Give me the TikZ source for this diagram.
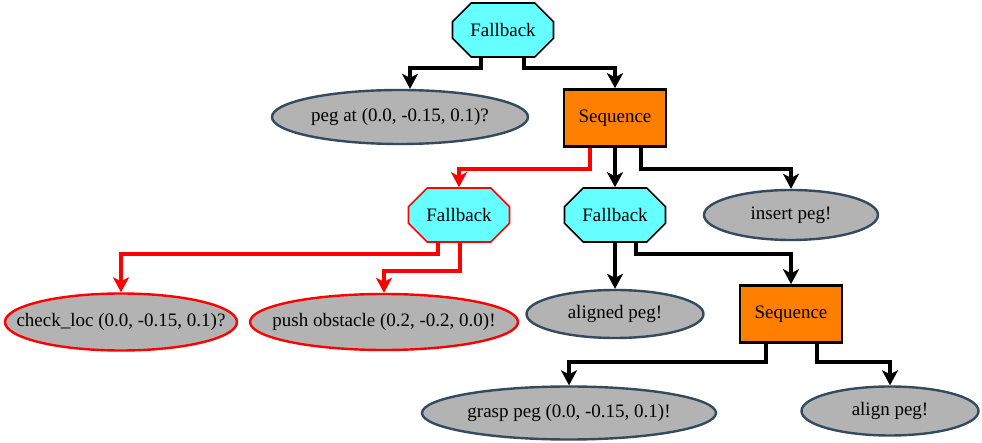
\documentclass[tikz,border=0pt]{standalone}
\usepackage{fontspec}
\setmainfont{Liberation Serif}
\usetikzlibrary{shapes.geometric,shapes.misc,arrows.meta}
\definecolor{fbcyan}{HTML}{66FFFF}
\definecolor{seqorange}{HTML}{FF8000}
\definecolor{leafgray}{HTML}{B3B3B3}
\definecolor{leafedge}{HTML}{344A5E}
% zero-width label, so the ellipse size comes from minimum width/height only
\newcommand{\leaftext}[1]{\makebox[0pt]{#1}}
\tikzset{
  lbl/.style={font=\fontsize{19}{22}\selectfont, inner sep=0pt},
  fallback/.style={lbl, chamfered rectangle, chamfered rectangle xsep=24pt,
    chamfered rectangle ysep=12pt, fill=fbcyan, draw=black, line width=1.6pt,
    minimum width=101pt, minimum height=54pt},
  sequence/.style={lbl, rectangle, fill=seqorange, draw=black, line width=2.6pt,
    minimum width=102pt, minimum height=57pt},
  leaf/.style={lbl, ellipse, fill=leafgray, draw=leafedge, line width=2.4pt},
  failing/.style={draw=red},
  edge/.style={line width=4pt, draw=black,
    -{Stealth[length=15pt,width=16pt,inset=4pt]}},
  rededge/.style={edge, draw=red, -{Stealth[length=15pt,width=16pt,inset=4pt,fill=red]}},
}
\begin{document}
\begin{tikzpicture}[x=1pt,y=-1pt]
\useasboundingbox (0,0) rectangle (982,443);

% tree nodes
\node[fallback] (fb1) at (503,30) {Fallback};
\node[leaf, minimum width=256pt, minimum height=54pt] (peg) at (400,117) {\leaftext{peg at (0.0, -0.15, 0.1)?}};
\node[sequence] (seq1) at (615,118) {Sequence};
\node[fallback, failing] (fb2) at (459,215) {Fallback};
\node[fallback] (fb3) at (615,215) {Fallback};
\node[leaf, minimum width=174pt, minimum height=50pt] (ins) at (791,215) {\leaftext{insert peg!}};
\node[leaf, failing, minimum width=232pt, minimum height=57pt] (chk) at (121,322) {\leaftext{check\_loc (0.0, -0.15, 0.1)?}};
\node[leaf, failing, minimum width=268pt, minimum height=56pt] (push) at (384,322) {\leaftext{push obstacle (0.2, -0.2, 0.0)!}};
\node[leaf, minimum width=177pt, minimum height=48pt] (aligned) at (615,314) {\leaftext{aligned peg!}};
\node[sequence] (seq2) at (791,314) {Sequence};
\node[leaf, minimum width=294pt, minimum height=53pt] (grasp) at (569,413) {\leaftext{grasp peg (0.0, -0.15, 0.1)!}};
\node[leaf, minimum width=177pt, minimum height=49pt] (align) at (890,411) {\leaftext{align peg!}};

% connectors
\draw[edge] ([xshift=-22pt]fb1.south) -- ++(0,10) -| ([xshift=10pt]peg.north);
\draw[edge] ([xshift=21pt]fb1.south) -- ++(0,10) -| (seq1.north);

\draw[rededge] ([xshift=-25pt]seq1.south) -- ++(0,21) -| (fb2.north);
\draw[edge] (seq1.south) -- (fb3.north);
\draw[edge] ([xshift=26pt]seq1.south) -- ++(0,21) -| (ins.north);

\draw[rededge] ([xshift=-21pt]fb2.south) -- ++(0,11) -| (chk.north);
\draw[rededge] ([xshift=1pt]fb2.south) -- ++(0,28) -| (push.north);

\draw[edge] (fb3.south) -- (aligned.north);
\draw[edge] ([xshift=21pt]fb3.south) -- ++(0,11) -| (seq2.north);

\draw[edge] ([xshift=-25pt]seq2.south) -- ++(0,18) -| (grasp.north);
\draw[edge] ([xshift=26pt]seq2.south) -- ++(0,18) -| (align.north);
\end{tikzpicture}
\end{document}
